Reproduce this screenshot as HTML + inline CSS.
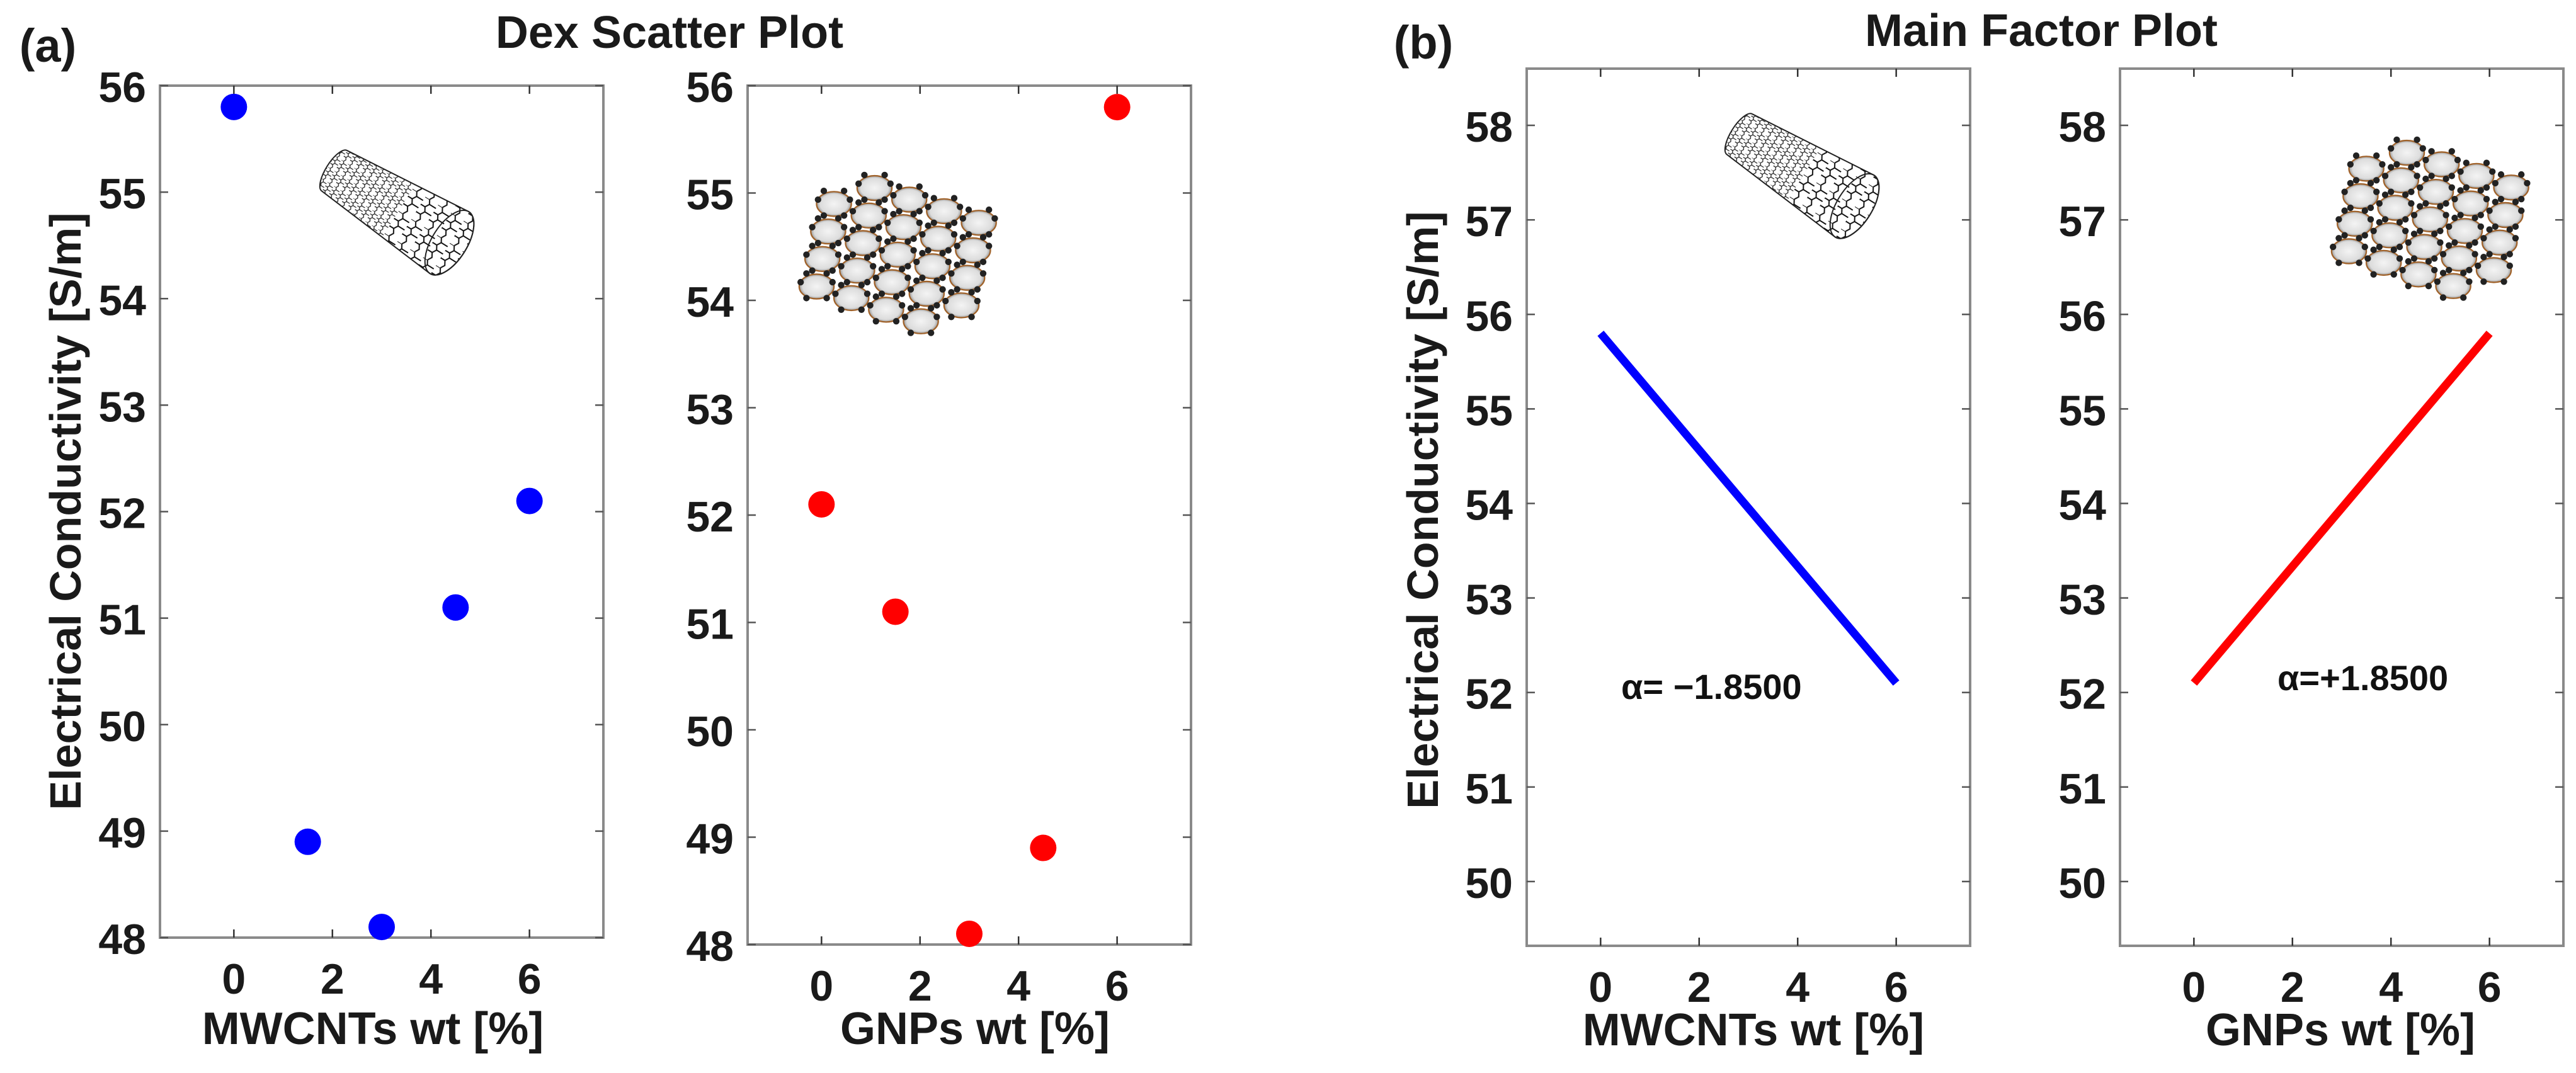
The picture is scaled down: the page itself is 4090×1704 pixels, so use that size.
<!DOCTYPE html>
<html><head><meta charset="utf-8"><style>
html,body{margin:0;padding:0;background:#fff;}
svg{display:block;font-family:"Liberation Sans",Arial,sans-serif;font-weight:bold;}
</style></head><body>
<svg id="fig" width="4090" height="1704" viewBox="0 0 4090 1704" xmlns="http://www.w3.org/2000/svg">
<defs>
<pattern id="hexS" width="12" height="20.8" patternUnits="userSpaceOnUse">
<path d="M0,0 l4,0 l2,3.46 l-2,3.46 l-4,0 M6,3.46 l6,0 M4,6.92 l2,3.46 l-2,3.46 M0,6.92 l-2,3.46 l2,3.46 M6,10.4 l6,0 M4,13.9 l-4,0 M4,13.9 l2,3.46 l-2,3.46 M0,13.9 l-2,3.46" fill="none" stroke="#222" stroke-width="1.3"/>
</pattern>
<pattern id="hexL" width="24" height="41.6" patternUnits="userSpaceOnUse">
<path d="M0,0 l8,0 l4,6.93 l-4,6.93 l-8,0 M12,6.93 l12,0 M8,13.86 l4,6.93 l-4,6.93 M0,13.86 l-4,6.93 l4,6.93 M12,20.8 l12,0 M8,27.7 l-8,0 M8,27.7 l4,6.93 l-4,6.93 M0,27.7 l-4,6.93" fill="none" stroke="#111" stroke-width="2"/>
</pattern>
<radialGradient id="gcell" cx="50%" cy="50%" r="50%"><stop offset="0" stop-color="#f4f4f4"/><stop offset="0.8" stop-color="#dcdcdc"/><stop offset="1" stop-color="#999"/></radialGradient>
</defs>
<g id="root"></g>
</svg>
<script>
// ---- data ----
const xLevels = [0, 1.5, 3, 4.5, 6];
const mwcntScatter = [55.8, 48.9, 48.1, 51.1, 52.1];
const gnpScatter = [52.1, 51.1, 48.1, 48.9, 55.8];
const factorX = [0, 6];
const mwcntMean = [55.8, 52.1];
const gnpMean = [52.1, 55.8];
const xTicks = [0, 2, 4, 6];
const yTicksA = [48, 49, 50, 51, 52, 53, 54, 55, 56];
const yTicksB = [50, 51, 52, 53, 54, 55, 56, 57, 58];
const slopeLabels = ["\u03B1= \u22121.8500", "\u03B1=+1.8500"];

const NS = "http://www.w3.org/2000/svg";
const root = document.getElementById('root');
function el(tag, attrs, parent, text){
  const e = document.createElementNS(NS, tag);
  for (const k in attrs) e.setAttribute(k, attrs[k]);
  if (text !== undefined) e.textContent = text;
  (parent || root).appendChild(e);
  return e;
}
function makeAxes(name, L, T, W, H, xmin, xmax, ymin, ymax, yTicks){
  const g = el('g', {});
  
  
  const sx = v => L + (v - xmin) / (xmax - xmin) * W;
  const sy = v => T + H - (v - ymin) / (ymax - ymin) * H;
  const box = el('rect', {x:L, y:T, width:W, height:H, fill:'none', stroke:'#8a8a8a', 'stroke-width':4}, g);
  
  
  xTicks.forEach(v => {
    const x = sx(v);
    el('line', {x1:x, y1:T+H, x2:x, y2:T+H-13, stroke:'#333', 'stroke-width':2.5}, g);
    el('line', {x1:x, y1:T, x2:x, y2:T+13, stroke:'#333', 'stroke-width':2.5}, g);
    const t = el('text', {x:x, y:T+H+89, 'text-anchor':'middle', 'font-size':68, fill:'#1a1a1a'}, g, String(v));
    
    
  });
  yTicks.forEach(v => {
    const y = sy(v);
    el('line', {x1:L, y1:y, x2:L+13, y2:y, stroke:'#555', 'stroke-width':2.5}, g);
    el('line', {x1:L+W, y1:y, x2:L+W-13, y2:y, stroke:'#555', 'stroke-width':2.5}, g);
    const t = el('text', {x:L-22, y:y+26, 'text-anchor':'end', 'font-size':68, fill:'#1a1a1a'}, g, String(v));
    
    
  });
  return {g, sx, sy};
}
function nanotube(cx, cy, name){
  const g = el('g', {transform:`translate(${cx},${cy}) rotate(32)`});
  
  
  el('path', {d:'M-120,-38 L95,-58 A28,58 0 0 1 95,58 L-120,38 A14,38 0 0 1 -120,-38 Z', fill:'#fff', stroke:'#222', 'stroke-width':2}, g);
  el('path', {d:'M-120,-38 L0,-49 L0,49 L-120,38 A14,38 0 0 1 -120,-38 Z', fill:'url(#hexS)'}, g);
  el('path', {d:'M0,-49 L95,-58 A28,58 0 0 1 95,58 L0,49 Z', fill:'url(#hexL)'}, g);
  el('ellipse', {cx:95, cy:0, rx:28, ry:58, fill:'none', stroke:'#222', 'stroke-width':2}, g);
}
function graphene(x, y, s, name){
  const g = el('g', {transform:`translate(${x},${y}) scale(${s})`});
  
  
  const cells = [];
  for (let r = 0; r < 5; r++) for (let c = 0; c < 5; c++){
    if ((r===0&&c===0)||(r===4&&c===4)) continue;
    cells.push([c*48 + r*(-8) + 40, r*38 + c*16 + 10]);
  }
  cells.forEach(p => el('ellipse', {cx:p[0]+22, cy:p[1]+18, rx:24, ry:17, fill:'url(#gcell)', stroke:'#a0622a', 'stroke-width':2}, g));
  cells.forEach(p => {
    [[0,12],[8,0],[36,0],[44,12],[36,34],[8,34]].forEach(d => el('circle', {cx:p[0]+d[0], cy:p[1]+d[1], r:4.5, fill:'#222'}, g));
  });
}
function scatter(ax, ys, color, name){
  xLevels.forEach((xv, i) => {
    const c = el('circle', {cx:ax.sx(xv), cy:ax.sy(ys[i]), r:21, fill:color}, ax.g);
    
    
  });
}
function line(ax, ys, color, name){
  const pts = factorX.map((xv, i) => ax.sx(xv) + ',' + ax.sy(ys[i])).join(' ');
  const p = el('polyline', {points:pts, fill:'none', stroke:color, 'stroke-width':13}, ax.g);
  
  
}
function label(x, y, txt, size, name, rot){
  const t = el('text', {x:x, y:y, 'text-anchor':'middle', 'font-size':size, fill:'#1a1a1a'}, root, txt);
  if (rot) t.setAttribute('transform', `rotate(-90 ${x} ${y})`);
  
  
  return t;
}

// panel (a)
const a1 = makeAxes('scatter-mwcnt-axes', 254, 136, 704, 1353, -1.5, 7.5, 48, 56, yTicksA);
const a2 = makeAxes('scatter-gnp-axes', 1187, 136, 704, 1364, -1.5, 7.5, 48, 56, yTicksA);
nanotube(633, 335, 'nanotube-image-a');
graphene(1262, 248, 1.15, 'graphene-image-a');
scatter(a1, mwcntScatter, '#0000ff', 'mwcnt');
scatter(a2, gnpScatter, '#ff0000', 'gnp');
// panel (b)
const b1 = makeAxes('factor-mwcnt-axes', 2424, 109, 704, 1393, -1.5, 7.5, 49.32, 58.6, yTicksB);
const b2 = makeAxes('factor-gnp-axes', 3366, 109, 704, 1393, -1.5, 7.5, 49.32, 58.6, yTicksB);
nanotube(2864, 277, 'nanotube-image-b');
graphene(3695, 192, 1.15, 'graphene-image-b');
line(b1, mwcntMean, '#0000ff', 'mwcnt-main-effect-line');
line(b2, gnpMean, '#ff0000', 'gnp-main-effect-line');

const s1 = el('text', {x:2574, y:1110, 'font-size':56, fill:'#111'}, root, slopeLabels[0]);


const s2 = el('text', {x:3616, y:1096, 'font-size':56, fill:'#111'}, root, slopeLabels[1]);



label(1063, 76, 'Dex Scatter Plot', 72, 'title-dex-scatter');
label(3241, 73, 'Main Factor Plot', 72, 'title-main-factor');
label(76, 98, '(a)', 74, 'panel-label-a');
label(2260, 93, '(b)', 74, 'panel-label-b');
label(128, 812, 'Electrical Conductivity [S/m]', 70, 'y-axis-title-a', true);
label(2283, 810, 'Electrical Conductivity [S/m]', 70, 'y-axis-title-b', true);
label(592, 1658, 'MWCNTs wt [%]', 72, 'x-axis-title-a-mwcnt');
label(1548, 1658, 'GNPs wt [%]', 72, 'x-axis-title-a-gnp');
label(2784, 1660, 'MWCNTs wt [%]', 72, 'x-axis-title-b-mwcnt');
label(3716, 1660, 'GNPs wt [%]', 72, 'x-axis-title-b-gnp');
</script>
</body></html>
